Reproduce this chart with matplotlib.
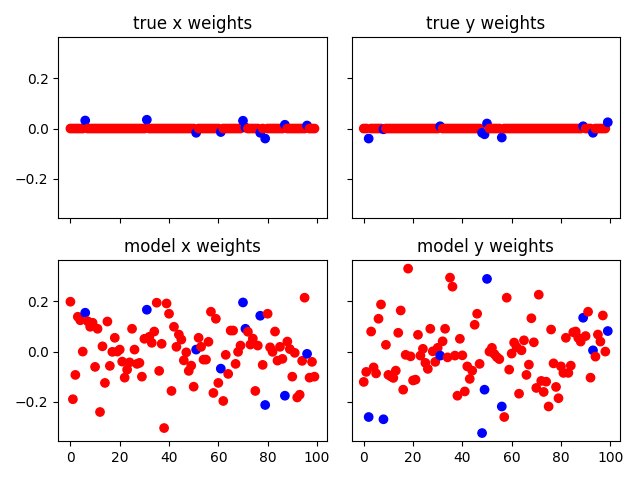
import matplotlib
matplotlib.use('Agg')
import matplotlib.pyplot as plt
import numpy as np

n = 100
idx = np.arange(n)

# nonzero true weights (index: value)
true_x_nonzero = {6: 0.032, 31: 0.035, 51: -0.017, 61: -0.014, 70: 0.031,
                  71: 0.004, 77: -0.017, 79: -0.04, 87: 0.015, 96: 0.012}
true_y_nonzero = {2: -0.04, 8: -0.003, 31: 0.009, 48: -0.017, 49: -0.023,
                  50: 0.02, 56: -0.036, 89: 0.009, 93: -0.017, 99: 0.025}

model_x = [0.199, -0.19, -0.093, 0.139, 0.125, 0.0, 0.155, 0.121, 0.099, 0.115,
           -0.061, 0.091, -0.241, 0.021, -0.125, 0.12, -0.057, -0.001, 0.055, 0.0,
           0.008, -0.04, -0.104, -0.072, -0.043, 0.091, 0.008, -0.049, -0.045, -0.1,
           0.051, 0.167, 0.059, 0.035, 0.08, 0.195, -0.077, 0.031, -0.305, 0.192,
           0.151, -0.157, 0.099, 0.019, 0.068, 0.048, -0.035, -0.003, -0.077, -0.056,
           -0.14, 0.008, 0.055, 0.019, -0.032, -0.032, 0.039, 0.159, -0.165, 0.131,
           -0.125, -0.068, -0.197, -0.013, -0.089, 0.084, 0.084, -0.049, -0.001, 0.024,
           0.196, 0.091, 0.079, 0.028, 0.052, -0.157, 0.024, 0.143, -0.053, -0.213,
           0.151, 0.017, -0.001, 0.08, -0.036, 0.019, -0.029, -0.176, 0.04, 0.01,
           -0.1, -0.005, -0.183, -0.172, -0.037, 0.215, -0.009, -0.104, -0.041, -0.1]

model_y = [-0.121, -0.081, -0.261, 0.08, -0.063, -0.087, 0.131, 0.188, -0.27, 0.027,
           -0.093, -0.099, -0.105, -0.076, 0.075, 0.164, -0.152, -0.013, 0.331, -0.019,
           -0.115, -0.112, 0.067, -0.016, 0.011, -0.045, -0.069, 0.091, 0.001, -0.041,
           0.015, -0.016, 0.041, 0.091, -0.023, 0.295, 0.259, -0.016, -0.176, 0.051,
           -0.015, -0.159, -0.059, -0.109, -0.076, 0.107, 0.151, -0.049, -0.325, -0.152,
           0.29, 0.0, 0.015, -0.01, -0.022, -0.03, -0.219, -0.261, 0.215, -0.072,
           -0.008, 0.036, 0.018, -0.168, 0.005, 0.045, -0.093, -0.052, 0.133, 0.037,
           -0.145, 0.227, -0.117, -0.161, -0.12, -0.219, 0.088, -0.047, -0.141, -0.186,
           -0.059, -0.085, 0.055, -0.085, -0.056, 0.077, 0.08, 0.055, 0.04, 0.135,
           0.062, 0.159, -0.104, 0.005, -0.02, 0.068, 0.04, 0.144, 0.0, 0.082]

true_x = np.zeros(n)
for k, v in true_x_nonzero.items():
    true_x[k] = v
true_y = np.zeros(n)
for k, v in true_y_nonzero.items():
    true_y[k] = v

colors_x = ['b' if k in true_x_nonzero else 'r' for k in idx]
colors_y = ['b' if k in true_y_nonzero else 'r' for k in idx]

fig, axes = plt.subplots(2, 2, sharex=True, sharey=True, figsize=(6.4, 4.8), dpi=100)

axes[0, 0].scatter(idx, true_x, c=colors_x)
axes[0, 0].set_title('true x weights')
axes[0, 1].scatter(idx, true_y, c=colors_y)
axes[0, 1].set_title('true y weights')
axes[1, 0].scatter(idx, model_x, c=colors_x)
axes[1, 0].set_title('model x weights')
axes[1, 1].scatter(idx, model_y, c=colors_y)
axes[1, 1].set_title('model y weights')

plt.tight_layout()
plt.savefig('out.png')
